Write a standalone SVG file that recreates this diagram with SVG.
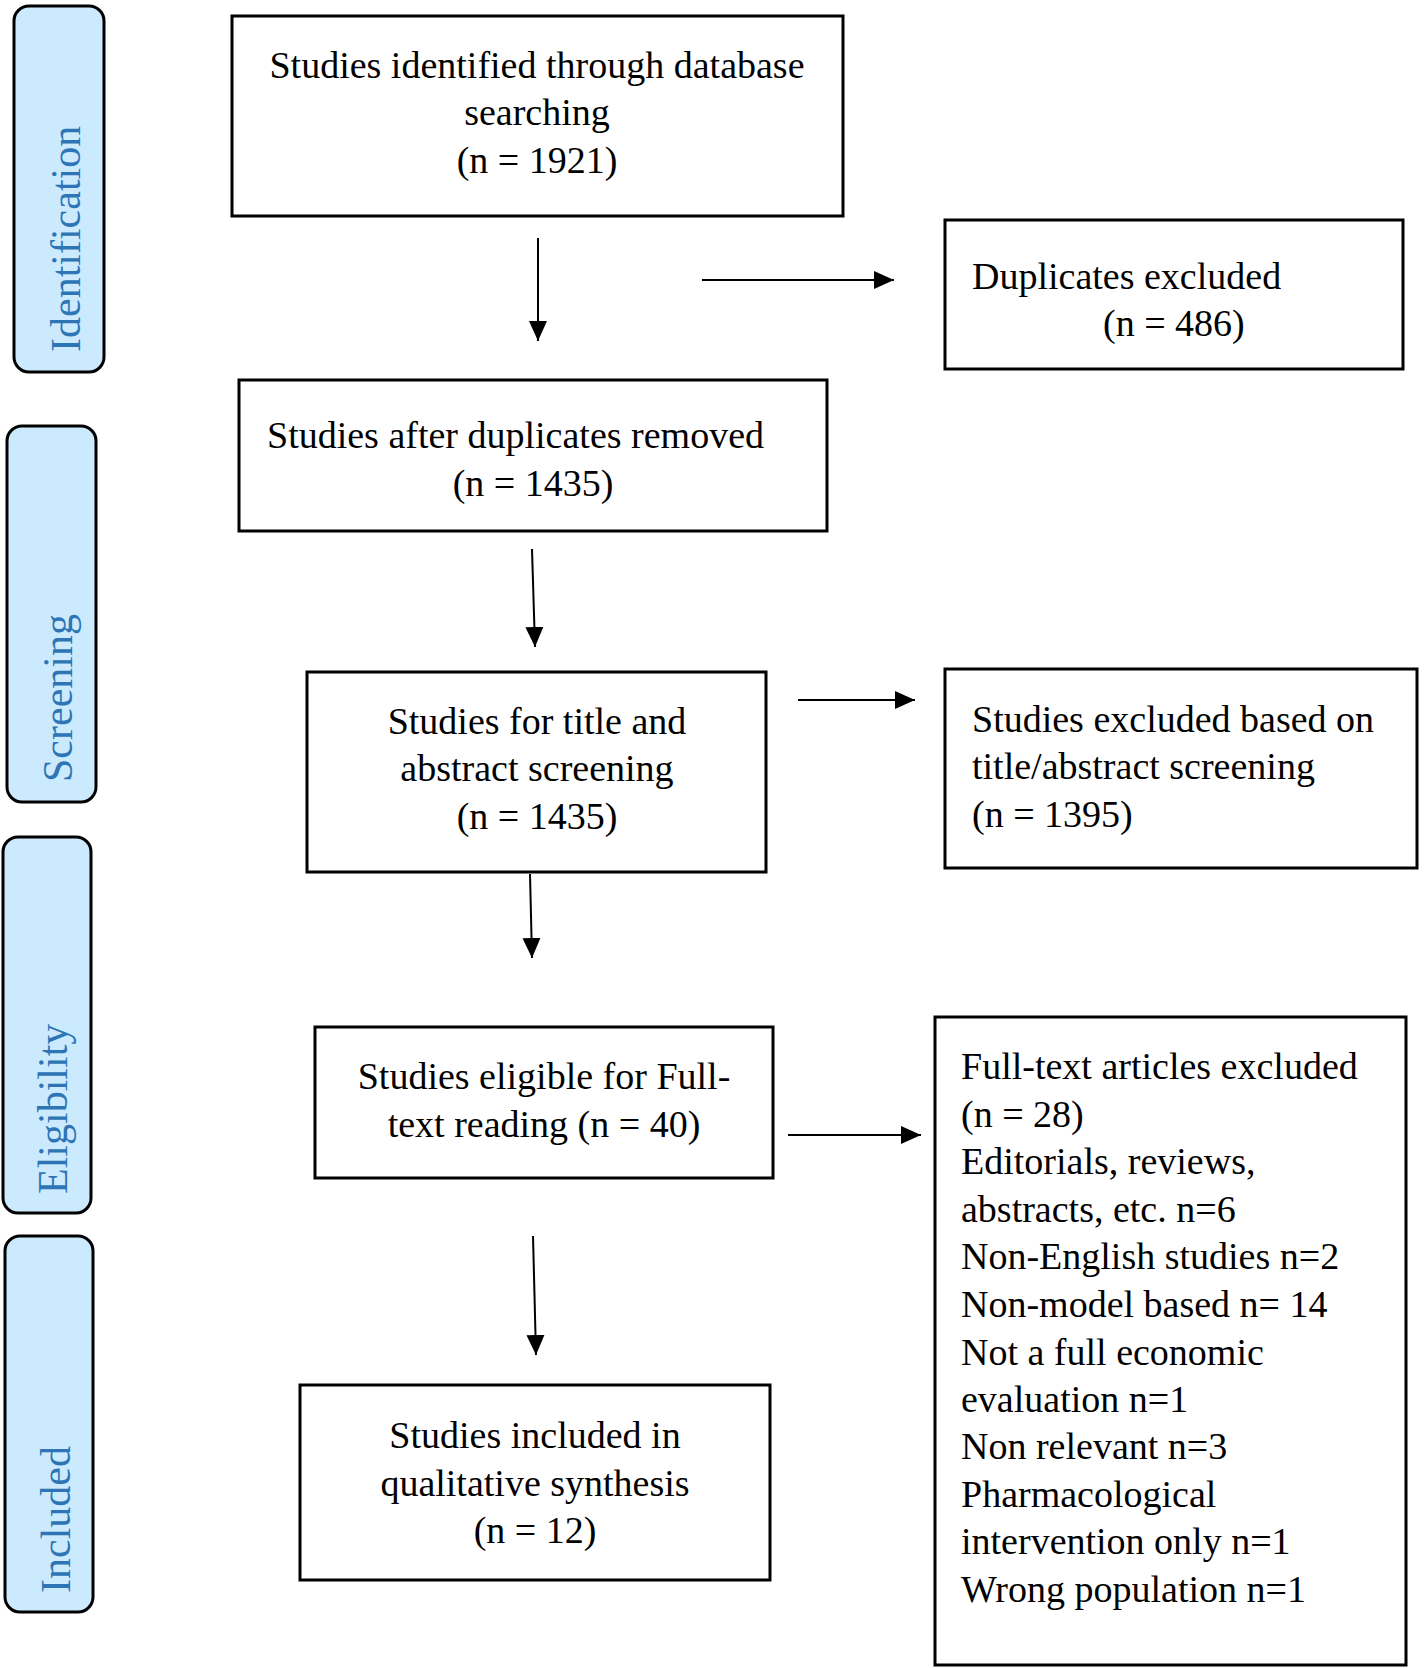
<svg xmlns="http://www.w3.org/2000/svg" width="1424" height="1668" viewBox="0 0 1424 1668">
<defs>
<style>
.box{fill:#fff;stroke:#000;stroke-width:3}
.side{fill:#CCEAFE;stroke:#000;stroke-width:3}
.t{font-family:"Liberation Serif","Times New Roman",serif;font-size:38px;fill:#000}
.c{text-anchor:middle}
.st{font-family:"Liberation Serif","Times New Roman",serif;font-size:42px;fill:#2E75B6}
.ln{stroke:#000;stroke-width:2;fill:none;marker-end:url(#ah)}
</style>
<marker id="ah" markerUnits="userSpaceOnUse" markerWidth="22" markerHeight="20" refX="20" refY="9" orient="auto">
<path d="M0,0 L20,9 L0,18 Z" fill="#000"/>
</marker>
</defs>
<rect width="1424" height="1668" fill="#fff"/>

<g id="stage-identification">
<rect class="side" x="14" y="6" width="90" height="366" rx="15"/>
<text class="st" transform="translate(80,352) rotate(-90)">Identification</text>
</g>
<g id="stage-screening">
<rect class="side" x="7" y="426" width="89" height="376" rx="15"/>
<text class="st" transform="translate(72,782) rotate(-90)">Screening</text>
</g>
<g id="stage-eligibility">
<rect class="side" x="3" y="837" width="88" height="376" rx="15"/>
<text class="st" transform="translate(67,1194) rotate(-90)">Eligibility</text>
</g>
<g id="stage-included">
<rect class="side" x="5" y="1236" width="88" height="376" rx="15"/>
<text class="st" transform="translate(70,1593) rotate(-90)">Included</text>
</g>

<g id="identified">
<rect class="box" x="232" y="16" width="611" height="200"/>
<text class="t c" x="537" y="78">Studies identified through database</text>
<text class="t c" x="537" y="125">searching</text>
<text class="t c" x="537" y="173">(n = 1921)</text>
</g>
<g id="duplicates-excluded">
<rect class="box" x="945" y="220" width="458" height="149"/>
<text class="t" x="972" y="289">Duplicates excluded</text>
<text class="t" x="1103" y="336">(n = 486)</text>
</g>
<g id="after-duplicates">
<rect class="box" x="239" y="380" width="588" height="151"/>
<text class="t" x="267" y="448">Studies after duplicates removed</text>
<text class="t c" x="533" y="496">(n = 1435)</text>
</g>
<g id="title-abstract">
<rect class="box" x="307" y="672" width="459" height="200"/>
<text class="t c" x="537" y="734">Studies for title and</text>
<text class="t c" x="537" y="781">abstract screening</text>
<text class="t c" x="537" y="829">(n = 1435)</text>
</g>
<g id="excluded-title-abstract">
<rect class="box" x="945" y="669" width="472" height="199"/>
<text class="t" x="972" y="732">Studies excluded based on</text>
<text class="t" x="972" y="779">title/abstract screening</text>
<text class="t" x="972" y="827">(n = 1395)</text>
</g>
<g id="full-text">
<rect class="box" x="315" y="1027" width="458" height="151"/>
<text class="t c" x="544" y="1089">Studies eligible for Full-</text>
<text class="t c" x="544" y="1137">text reading (n = 40)</text>
</g>
<g id="full-text-excluded">
<rect class="box" x="935" y="1017" width="471" height="648"/>
<text class="t" x="961" y="1079">Full-text articles excluded</text>
<text class="t" x="961" y="1127">(n = 28)</text>
<text class="t" x="961" y="1174">Editorials, reviews,</text>
<text class="t" x="961" y="1222">abstracts, etc. n=6</text>
<text class="t" x="961" y="1269">Non-English studies n=2</text>
<text class="t" x="961" y="1317">Non-model based n= 14</text>
<text class="t" x="961" y="1365">Not a full economic</text>
<text class="t" x="961" y="1412">evaluation n=1</text>
<text class="t" x="961" y="1459">Non relevant n=3</text>
<text class="t" x="961" y="1507">Pharmacological</text>
<text class="t" x="961" y="1554">intervention only n=1</text>
<text class="t" x="961" y="1602">Wrong population n=1</text>
</g>
<g id="included">
<rect class="box" x="300" y="1385" width="470" height="195"/>
<text class="t c" x="535" y="1448">Studies included in</text>
<text class="t c" x="535" y="1496">qualitative synthesis</text>
<text class="t c" x="535" y="1543">(n = 12)</text>
</g>

<g id="connectors">
<line class="ln" x1="538" y1="238" x2="538" y2="341"/>
<line class="ln" x1="702" y1="280" x2="894" y2="280"/>
<line class="ln" x1="532" y1="549" x2="535" y2="647"/>
<line class="ln" x1="798" y1="700" x2="915" y2="700"/>
<line class="ln" x1="530" y1="874" x2="532" y2="958"/>
<line class="ln" x1="788" y1="1135" x2="921" y2="1135"/>
<line class="ln" x1="533" y1="1236" x2="536" y2="1355"/>
</g>
</svg>
